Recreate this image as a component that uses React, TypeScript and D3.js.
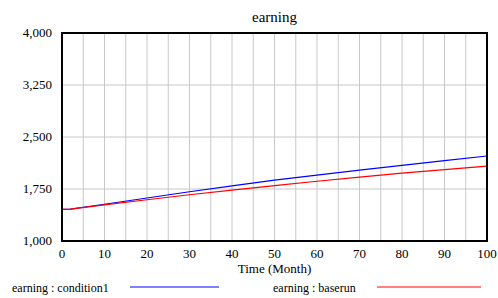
import React from 'react';
import * as d3 from 'd3';

const W = 498;
const H = 298;
const M = { top: 33, right: 11, bottom: 57, left: 62 };

const months = [0, 2, 10, 20, 30, 40, 50, 60, 70, 80, 90, 100];
const condition1 = [1457, 1460, 1530, 1620, 1710, 1795, 1878, 1950, 2022, 2092, 2160, 2226];
const baserun = [1457, 1460, 1520, 1595, 1667, 1735, 1800, 1862, 1922, 1978, 2030, 2080];
const yTicks = [1000, 1750, 2500, 3250, 4000];
const xTicks = [0, 10, 20, 30, 40, 50, 60, 70, 80, 90, 100];
const xGrid = d3.range(0, 101, 5);

const FONT = 'Liberation Serif, Times New Roman, DejaVu Serif, serif';

const App = () => {
  const x = d3.scaleLinear().domain([0, 100]).range([M.left, W - M.right]);
  const y = d3.scaleLinear().domain([1000, 4000]).range([H - M.bottom, M.top]);

  const line = d3
    .line<number>()
    .x((d, i) => x(months[i]))
    .y((d) => y(d));

  const series = [
    { name: 'earning : condition1', values: condition1, color: '#0000ff' },
    { name: 'earning : baserun', values: baserun, color: '#ff0000' },
  ];

  return (
    <svg
      width={W}
      height={H}
      style={{ display: 'block', position: 'absolute', left: 0, top: 0, fontFamily: FONT }}
    >
      <rect width={W} height={H} fill="#fff" />
      <text x={(x(0) + x(100)) / 2} y={22} textAnchor="middle" fontSize={15}>
        earning
      </text>
      {xGrid.map((t) => (
        <line key={'gx' + t} x1={x(t)} x2={x(t)} y1={y(4000)} y2={y(1000)} stroke="#c8c8c8" strokeWidth={1} />
      ))}
      {yTicks.map((t) => (
        <line key={'gy' + t} x1={x(0)} x2={x(100)} y1={y(t)} y2={y(t)} stroke="#c8c8c8" strokeWidth={1} />
      ))}
      {series.map((s) => (
        <path key={s.name} d={line(s.values) || ''} fill="none" stroke={s.color} strokeWidth={1.2} />
      ))}
      <rect
        x={x(0)}
        y={y(4000)}
        width={x(100) - x(0)}
        height={y(1000) - y(4000)}
        fill="none"
        stroke="#000"
        strokeWidth={2}
      />
      {yTicks.map((t) => (
        <text key={'yl' + t} x={x(0) - 10} y={y(t) + 4} textAnchor="end" fontSize={13}>
          {d3.format(',')(t)}
        </text>
      ))}
      {xTicks.map((t) => (
        <text key={'xl' + t} x={x(t)} y={y(1000) + 17} textAnchor="middle" fontSize={13}>
          {t}
        </text>
      ))}
      <text x={(x(0) + x(100)) / 2} y={y(1000) + 32} textAnchor="middle" fontSize={13}>
        Time (Month)
      </text>
      <text x={12} y={292} fontSize={12}>
        {series[0].name}
      </text>
      <line x1={130} x2={219} y1={287} y2={287} stroke={series[0].color} strokeWidth={1} />
      <text x={273} y={292} fontSize={12}>
        {series[1].name}
      </text>
      <line x1={377} x2={481} y1={287} y2={287} stroke={series[1].color} strokeWidth={1} />
    </svg>
  );
};

export default App;
